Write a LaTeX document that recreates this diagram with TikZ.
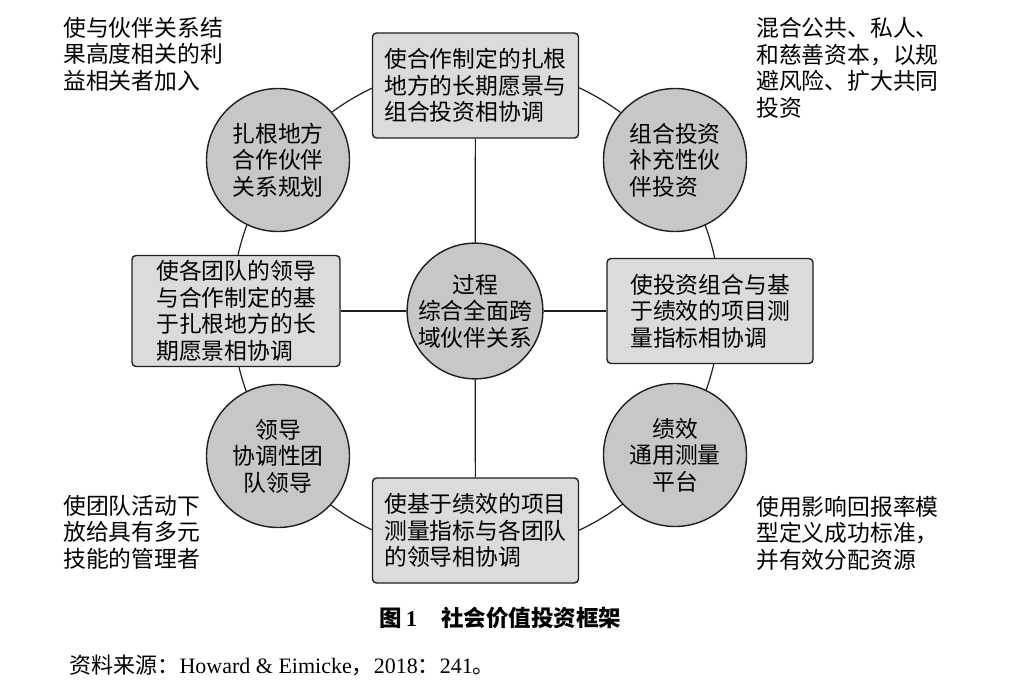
\documentclass[tikz,border=0pt]{standalone}
\usepackage{fontspec}
\setmainfont{Liberation Serif}
\newfontfamily\cjk{Noto Sans CJK SC}
\definecolor{boxgray}{gray}{0.86}
\definecolor{circgray}{gray}{0.78}
\definecolor{inkline}{gray}{0.12}
\begin{document}
\begin{tikzpicture}[x=1pt, y=-1pt, font=\cjk\fontsize{22.8}{26.5}\selectfont,
  goalbox/.style={draw=inkline, line width=1.4pt, rounded corners=4pt, fill=boxgray,
    minimum width=206pt, minimum height=105pt, align=left, inner sep=0pt},
  toolcirc/.style={circle, draw=inkline, line width=1.4pt, fill=circgray,
    minimum size=143pt, inner sep=0pt, align=center},
  note/.style={anchor=west, align=left, inner sep=0pt},
  link/.style={draw=inkline, line width=1.2pt}]
\useasboundingbox (0,0) rectangle (1015,695);
% outer ring behind everything
\coordinate (ringc) at (476,309);
\draw[link] (ringc) circle (244);
% hub in the middle
\node[toolcirc, minimum size=124pt] (hub) at (475,311) {过程\\综合全面跨\\域伙伴关系};
% four alignment boxes
\node[goalbox] (topbox) at (475.5,85.5) {使合作制定的扎根\\地方的长期愿景与\\组合投资相协调};
\node[goalbox, minimum width=208pt, minimum height=111pt] (leftbox) at (236,311)
  {使各团队的领导\\与合作制定的基\\于扎根地方的长\\期愿景相协调};
\node[goalbox] (rightbox) at (710,311) {使投资组合与基\\于绩效的项目测\\量指标相协调};
\node[goalbox] (botbox) at (475.5,530.5) {使基于绩效的项目\\测量指标与各团队\\的领导相协调};
% four tool circles on the ring
\node[toolcirc] (plan) at (278,160) {扎根地方\\合作伙伴\\关系规划};
\node[toolcirc, align=left] (invest) at (675,160) {组合投资\\补充性伙\\伴投资};
\node[toolcirc] (lead) at (278,456) {领导\\协调性团\\队领导};
\node[toolcirc] (metric) at (675,455) {绩效\\通用测量\\平台};
% spokes
\draw[link] (hub) -- (topbox);
\draw[link] (hub) -- (botbox);
\draw[link] (hub) -- (leftbox);
\draw[link] (hub) -- (rightbox);
% corner notes
\node[note] (notetl) at (63,54) {使与伙伴关系结\\果高度相关的利\\益相关者加入};
\node[note] (notetr) at (756,68) {混合公共、私人、\\和慈善资本，以规\\避风险、扩大共同\\投资};
\node[note] (notebl) at (63,532) {使团队活动下\\放给具有多元\\技能的管理者};
\node[note] (notebr) at (756,533) {使用影响回报率模\\型定义成功标准，\\并有效分配资源};
% caption and source
\node[font=\cjk\bfseries\fontsize{22.5}{26}\selectfont, anchor=west] (caption) at (376,618)
  {图\,{\rmfamily\bfseries 1}\hspace{24pt}社会价值投资框架};
\node[font=\fontsize{22}{26}\selectfont, anchor=west] (source) at (66,665)
  {{\cjk 资料来源：}Howard \& Eimicke{\cjk ，}2018{\cjk ：}241{\cjk 。}};
\end{tikzpicture}
\end{document}
